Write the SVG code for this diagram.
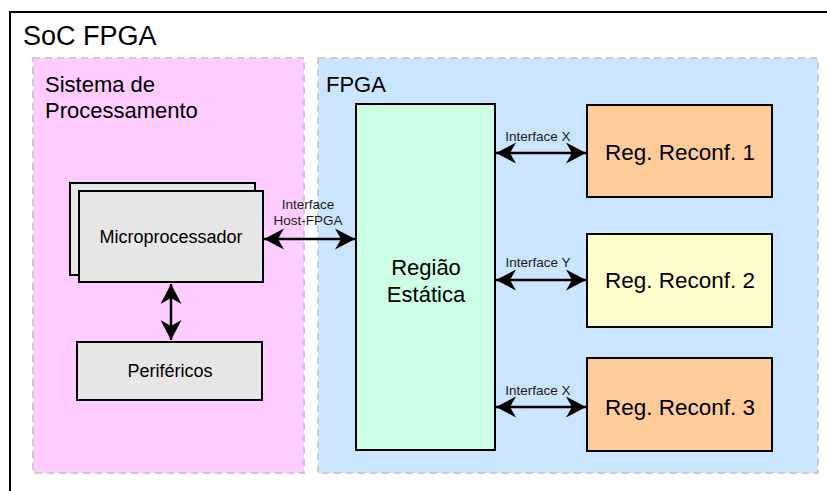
<svg xmlns="http://www.w3.org/2000/svg" width="827" height="491" viewBox="0 0 827 491">
<style>
text{font-family:"Liberation Sans",Arial,sans-serif;fill:#000}
.box{stroke:#000;stroke-width:2}
.area{stroke:#cccccc;stroke-width:2;stroke-dasharray:7 5}
.lbl{font-size:13.5px;text-anchor:middle;fill:#1a1a1a}
.c{text-anchor:middle}
.conn{stroke:#000;stroke-width:2.5;fill:none;marker-start:url(#ah);marker-end:url(#ah)}
</style>
<defs>
<marker id="ah" viewBox="-21 -11 22 22" refX="0" refY="0" markerWidth="22" markerHeight="22" markerUnits="userSpaceOnUse" orient="auto-start-reverse">
<path d="M0,0 L-20,-10.5 L-14,0 L-20,10.5 Z" fill="#000"/>
</marker>
</defs>
<rect width="827" height="491" fill="#fff"/>
<g id="soc">
<rect x="10" y="12" width="840" height="500" fill="#fff" stroke="#000" stroke-width="2"/>
<text x="23" y="45" font-size="27">SoC FPGA</text>
</g>
<g id="ps">
<rect class="area" x="33" y="58" width="271" height="415" fill="#ffccff"/>
<text x="45" y="92" font-size="22">Sistema de</text>
<text x="45" y="118" font-size="22">Processamento</text>
</g>
<g id="fpga">
<rect class="area" x="318" y="58" width="500" height="415" fill="#cce5ff"/>
<text x="326" y="92" font-size="22">FPGA</text>
</g>
<g id="micro">
<rect class="box" x="70" y="183" width="185" height="92" fill="#e6e6e6"/>
<rect class="box" x="79" y="191" width="184" height="91" fill="#e6e6e6"/>
<text class="c" x="171" y="243" font-size="18">Microprocessador</text>
</g>
<g id="perif">
<rect class="box" x="77" y="342" width="185" height="58" fill="#e6e6e6"/>
<text class="c" x="170" y="377" font-size="18">Periféricos</text>
</g>
<g id="estatica">
<rect class="box" x="356" y="104" width="139" height="346" fill="#ccffe6"/>
<text class="c" x="426" y="275" font-size="22">Região</text>
<text class="c" x="426" y="302" font-size="22">Estática</text>
</g>
<g id="rr1">
<rect class="box" x="587" y="105" width="185" height="92" fill="#ffcc99"/>
<text class="c" x="680" y="160" font-size="22.5">Reg. Reconf. 1</text>
</g>
<g id="rr2">
<rect class="box" x="587" y="234" width="185" height="93" fill="#ffffcc"/>
<text class="c" x="680" y="288" font-size="22.5">Reg. Reconf. 2</text>
</g>
<g id="rr3">
<rect class="box" x="587" y="358" width="185" height="93" fill="#ffcc99"/>
<text class="c" x="680" y="415" font-size="22.5">Reg. Reconf. 3</text>
</g>
<g id="connectors">
<line class="conn" x1="264" y1="239" x2="355" y2="239"/>
<line class="conn" x1="171" y1="284" x2="171" y2="340"/>
<line class="conn" x1="496" y1="153" x2="586" y2="153"/>
<line class="conn" x1="496" y1="280" x2="586" y2="280"/>
<line class="conn" x1="496" y1="407" x2="586" y2="407"/>
<text class="lbl" x="308" y="209">Interface</text>
<text class="lbl" x="308" y="225">Host-FPGA</text>
<text class="lbl" x="538" y="141">Interface X</text>
<text class="lbl" x="538" y="267">Interface Y</text>
<text class="lbl" x="538" y="395">Interface X</text>
</g>
</svg>
